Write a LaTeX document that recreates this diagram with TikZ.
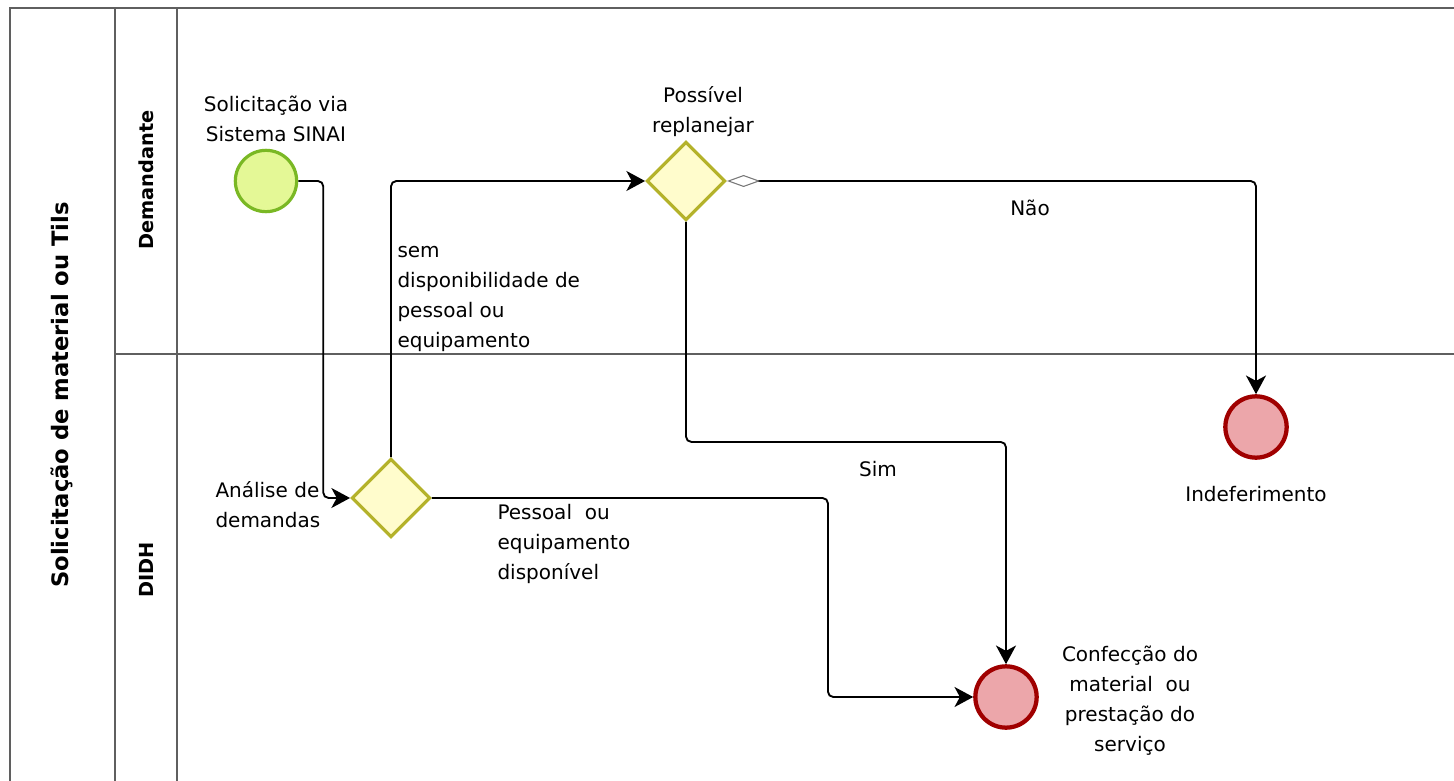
\documentclass[tikz,border=0pt]{standalone}
\usepackage{fontspec}
\setmainfont{DejaVu Sans}
\usetikzlibrary{shapes.geometric,arrows.meta}

\tikzset{every picture/.style={line width=0.75pt}}
\tikzset{
  lane/.style={color={rgb, 255:red, 95; green, 95; blue, 95 },line width=1.1pt},
  startev/.style={circle,draw={rgb, 255:red, 122; green, 184; blue, 36 },fill={rgb, 255:red, 228; green, 248; blue, 150 },line width=2.4pt,minimum size=46pt,inner sep=0pt},
  endev/.style={circle,draw={rgb, 255:red, 160; green, 0; blue, 0 },fill={rgb, 255:red, 236; green, 166; blue, 170 },line width=3.2pt,minimum size=46pt,inner sep=0pt},
  gate/.style={diamond,aspect=1,draw={rgb, 255:red, 180; green, 178; blue, 42 },fill={rgb, 255:red, 255; green, 252; blue, 204 },line width=2.4pt,minimum width=59pt,minimum height=59pt,inner sep=0pt},
  flow/.style={line width=1.4pt,rounded corners=4pt,-{Stealth[length=14pt,width=15pt,inset=4pt]}},
  dflt/.style={arrows={{Diamond[open,length=25pt,width=9pt,line width=0.8pt,color={rgb, 255:red, 120; green, 120; blue, 120 }]}-{Stealth[length=14pt,width=15pt,inset=4pt]}}},
  lbl/.style={font=\fontsize{15}{22.5}\selectfont,inner sep=0pt},
  head/.style={font=\bfseries\fontsize{14.5}{17}\selectfont,rotate=90,inner sep=0pt}
}

\begin{document}
\begin{tikzpicture}[x=0.75pt,y=0.75pt,yscale=-1,xscale=1]
\useasboundingbox (0,0) rectangle (1454,781);

%Pool and lanes
\draw [lane] (10,781) -- (10,8) -- (1454,8) ;
\draw [lane] (115,8) -- (115,781) ;
\draw [lane] (177,8) -- (177,781) ;
\draw [lane] (115,354) -- (1454,354) ;

% Text Node
\node (lblPool) [head,font=\bfseries\fontsize{17}{20}\selectfont] at (62,395) {Solicitação de material ou Tils};
% Text Node
\node (lblDem) [head] at (146,180) {Demandante};
% Text Node
\node (lblDidh) [head] at (146,570) {DIDH};

%Events and gateways
\node (start) [startev] at (266,181) {};
\node (gwAnalise) [gate] at (391,498) {};
\node (gwReplan) [gate] at (686,181) {};
\node (endIndef) [endev] at (1256,427) {};
\node (endConf) [endev] at (1006,697) {};

%Sequence flows
\draw [flow] (start.east) -- ++(25,0) |- (gwAnalise.west) ;
\draw [flow] (gwAnalise.north) |- (gwReplan.west) ;
\draw [flow,dflt] (gwReplan.east) -| (endIndef.north) ;
\draw [flow] (gwReplan.south) -- ++(0,220) -| (endConf.north) ;
\draw [flow] (gwAnalise.east) -- ++(396,0) |- (endConf.west) ;

% Text Node
\node (lblStart) [lbl,align=center] at (276,119) {Solicitação via\\Sistema SINAI};
% Text Node
\node (lblReplan) [lbl,align=center] at (703,112) {Possível\\replanejar};
% Text Node
\node (lblSem) [lbl,align=left,anchor=west] at (397,299) {sem\\disponibilidade de\\pessoal ou\\equipamento};
% Text Node
\node (lblNao) [lbl] at (1030,208) {Não};
% Text Node
\node (lblSim) [lbl] at (878,469) {Sim};
% Text Node
\node (lblAnalise) [lbl,align=left,anchor=west] at (215,505) {Análise de\\demandas};
% Text Node
\node (lblPessoal) [lbl,align=left,anchor=west] at (497,544) {Pessoal\ \ ou\\equipamento\\disponível};
% Text Node
\node (lblIndef) [lbl] at (1256,494) {Indeferimento};
% Text Node
\node (lblConf) [lbl,align=center] at (1130,701) {Confecção do\\material\ \ ou\\prestação do\\serviço};

\end{tikzpicture}
\end{document}
